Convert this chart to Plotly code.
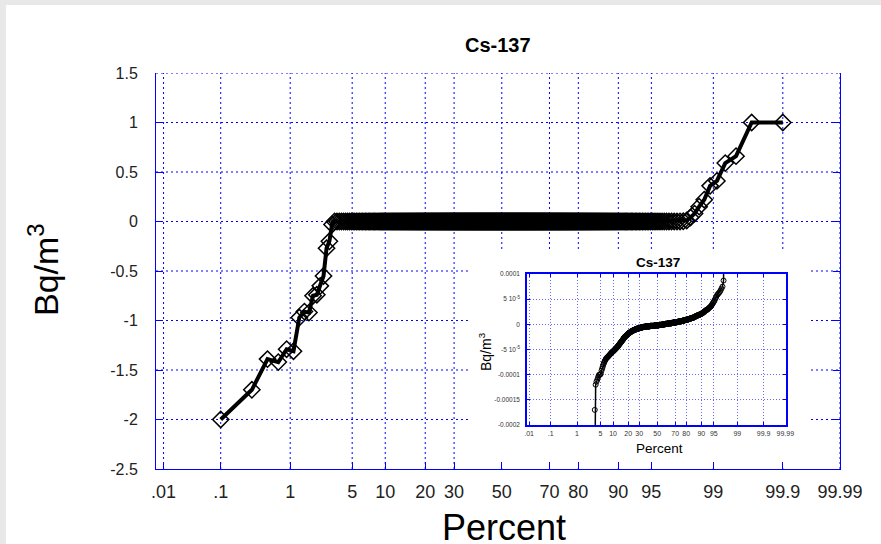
import plotly.graph_objects as go
from statistics import NormalDist

# ---------------- data ----------------
tick_pct = [0.01, 0.1, 1, 5, 10, 20, 30, 50, 70, 80, 90, 95, 99, 99.9, 99.99]
tick_lbl = [".01", ".1", "1", "5", "10", "20", "30", "50", "70", "80", "90", "95", "99", "99.9", "99.99"]

y_main_ticks = [1.5, 1, 0.5, 0, -0.5, -1, -1.5, -2, -2.5]
y_main_lbl = ["1.5", "1", "0.5", "0", "-0.5", "-1", "-1.5", "-2", "-2.5"]

y_inset_ticks = [0.0001, 0.00005, 0, -0.00005, -0.0001, -0.00015, -0.0002]
y_inset_lbl = ["0.0001", "5 10<sup>-5</sup>", "0", "-5 10<sup>-5</sup>",
               "-0.0001", "-0.00015", "-0.0002"]

# sorted Cs-137 values (Bq/m3), lowest ranks 1-17
low_tail = [-2.0, -1.70, -1.39, -1.42, -1.29, -1.31, -0.97, -0.91, -0.92,
            -0.75, -0.74, -0.65, -0.55, -0.27, -0.20, -0.03, -0.0005]

# ranks 18-487, in micro-Bq/m3
core_ubq = [
    -170, -120, -114, -110, -105, -101, -100, -100, -98,
    -92, -88, -84, -80, -77, -74, -72, -70, -68, -67,
    -66, -65, -64, -63, -62, -61, -60, -59, -58, -57,
    -56, -55, -55, -54, -53, -53, -52, -51, -50, -50,
    -49, -48, -47, -47, -46, -45, -44, -43, -43, -42,
    -41, -40, -39, -38, -38, -37, -36, -35, -34, -34,
    -33, -32, -31, -31, -30, -29, -28, -27, -27, -26,
    -25, -25, -24, -24, -23, -23, -22, -22, -21, -21,
    -20, -20, -19, -19, -18, -18, -18, -17, -17, -17,
    -16, -16, -16, -15, -15, -15, -14, -14, -14, -14,
    -13, -13, -13, -13, -12, -12, -12, -12, -12, -11,
    -11, -11, -11, -11, -10, -10, -10, -10, -10, -10,
    -9, -9, -9, -9, -9, -9, -8, -8, -8, -8,
    -8, -8, -8, -8, -7, -7, -7, -7, -7, -7,
    -7, -7, -7, -6, -6, -6, -6, -6, -6, -6,
    -6, -6, -6, -6, -5, -5, -5, -5, -5, -5,
    -5, -5, -5, -5, -5, -5, -5, -5, -4, -4, -4, -4, -4, -4, -4, -4, -4, -4, -4, -4, -4, -4, -4, -4, -4,
    -4, -4, -4, -4, -4, -4, -4, -4, -3, -3, -3, -3, -3, -3, -3, -3, -3, -3, -3, -3, -3, -3, -3, -3, -3,
    -3, -3, -3, -3, -3, -3, -3, -3, -3, -3, -2, -2, -2, -2, -2, -2, -2, -2, -2, -2, -2, -2, -2, -2, -2,
    -2, -2, -2, -2, -2, -2, -2, -2, -2, -2, -1, -1, -1, -1, -1, -1, -1, -1, -1, -1, -1, -1, -1, -1, -1,
    -1, -1, -1, -1, -1, 0, 0, 0, 0, 0, 0, 0, 0, 0, 0, 0, 0, 0, 0, 0, 1, 1, 1, 1, 1,
    1, 1, 1, 1, 1, 1, 1, 1, 1, 1, 2, 2, 2, 2, 2, 2, 2, 2, 2, 2, 2, 2, 2, 2, 2,
    2, 2, 2, 2, 2, 3, 3, 3, 3, 3, 3, 3, 3, 3, 3, 3, 3, 4, 4, 4, 4, 4, 4, 4, 4,
    4, 4, 4, 4, 4, 4, 4, 4, 5, 5, 5, 5, 5, 5, 5, 5, 5, 5, 6, 6, 6, 6, 6, 6, 6,
    6, 6, 6, 6, 6, 7, 7, 7, 7, 7, 7, 7, 7, 8, 8, 8, 8, 8, 8, 8, 9, 9, 9, 9, 9,
    9, 9, 9, 9, 10, 10, 10, 10, 10, 10, 11, 11, 11, 11, 11, 12, 12, 12, 12, 12, 13, 13, 13, 13, 13,
    13, 14, 14, 14, 15, 15, 15, 16, 16, 16, 17, 17, 17, 18, 18,
    18, 18, 19, 19, 19, 20, 20, 20, 21, 21,
    22, 22, 23, 23, 24, 25, 25, 26, 27, 28,
    28, 29, 29, 30, 31, 32, 33, 34, 35, 36,
    38, 40, 42, 44, 46,
    49, 52, 55, 58, 60,
    62, 64, 67, 71, 75,
    87,
]

# highest ranks 488-500 (Bq/m3)
high_tail = [0.0004, 0.002, 0.01, 0.04, 0.08, 0.15, 0.22, 0.36, 0.41,
             0.59, 0.66, 1.0, 1.0]

values = low_tail + [v * 1e-6 for v in core_ubq] + high_tail

# probability-plot scale: rank -> plotting position -> normal quantile
nd = NormalDist()
n = len(values)
pct = [(i + 0.5) / n * 100 for i in range(n)]
zpos = [nd.inv_cdf(p / 100) for p in pct]
tick_z = [nd.inv_cdf(p / 100) for p in tick_pct]

# ---------------- layout helpers ----------------
W, H = 881, 544
L, R, T, B = 156, 41, 73, 75
PW, PH = W - L - R, H - T - B


def px(x):
    return (x - L) / PW


def py(y):
    return (H - B - y) / PH


BLUE = "#0000ff"
FONT = "Liberation Sans, Arial, sans-serif"

fig = go.Figure()

fig.add_trace(go.Scatter(
    x=zpos, y=values, mode="lines+markers", xaxis="x", yaxis="y",
    line=dict(color="black", width=4),
    marker=dict(symbol="diamond-open", size=12.5, color="black", line=dict(width=1.5)),
    hoverinfo="skip", showlegend=False,
))

fig.add_trace(go.Scatter(
    x=zpos, y=values, mode="lines+markers", xaxis="x2", yaxis="y2",
    line=dict(color="black", width=1.5),
    marker=dict(symbol="circle-open", size=5, color="black", line=dict(width=1)),
    hoverinfo="skip", showlegend=False,
))

shapes = []
# white page panel (light gray frame on top/left)
shapes.append(dict(type="rect", xref="paper", yref="paper",
                   x0=px(6), x1=px(W) + 0.05, y0=py(H) - 0.05, y1=py(5),
                   fillcolor="white", line=dict(width=0), layer="below"))
# main grid (dotted)
for zt in tick_z:
    shapes.append(dict(type="line", xref="x", yref="paper", x0=zt, x1=zt, y0=0, y1=1,
                       line=dict(color=BLUE, width=1, dash="2px,3px"), layer="below"))
for yt in y_main_ticks[:-1]:
    shapes.append(dict(type="line", xref="paper", yref="y", x0=0, x1=1, y0=yt, y1=yt,
                       line=dict(color=BLUE, width=1, dash="2px,3px"), layer="below"))
# white background behind the inset
shapes.append(dict(type="rect", xref="paper", yref="paper",
                   x0=px(468), x1=px(808), y0=py(468), y1=py(249),
                   fillcolor="white", line=dict(width=0), layer="below"))

annotations = [
    dict(text="<b>Cs-137</b>", x=px(498), y=py(45), xref="paper", yref="paper",
         showarrow=False, font=dict(size=20, color="black", family=FONT),
         xanchor="center", yanchor="middle"),
    dict(text="Percent", x=px(504), y=py(527), xref="paper", yref="paper",
         showarrow=False, font=dict(size=36, color="black", family=FONT),
         xanchor="center", yanchor="middle"),
    dict(text="Bq/m<sup>3</sup>", x=px(43), y=py(270), xref="paper", yref="paper",
         showarrow=False, textangle=-90, font=dict(size=34, color="black", family=FONT),
         xanchor="center", yanchor="middle"),
    dict(text="<b>Cs-137</b>", x=px(658), y=py(262), xref="paper", yref="paper",
         showarrow=False, font=dict(size=13.5, color="black", family=FONT),
         xanchor="center", yanchor="middle"),
    dict(text="Percent", x=px(659), y=py(448), xref="paper", yref="paper",
         showarrow=False, font=dict(size=13.5, color="black", family=FONT),
         xanchor="center", yanchor="middle"),
    dict(text="Bq/m<sup>3</sup>", x=px(485), y=py(352), xref="paper", yref="paper",
         showarrow=False, textangle=-90, font=dict(size=14, color="black", family=FONT),
         xanchor="center", yanchor="middle"),
]

fig.update_layout(
    width=W, height=H,
    margin=dict(l=L, r=R, t=T, b=B, pad=0),
    paper_bgcolor="#e8e8e8", plot_bgcolor="white",
    font=dict(family=FONT, color="#222"),
    showlegend=False,
    shapes=shapes,
    annotations=annotations,
    xaxis=dict(domain=[0, 1], anchor="y", range=[-3.802, 3.719],
               tickmode="array", tickvals=tick_z, ticktext=tick_lbl,
               ticks="inside", ticklen=7, tickcolor=BLUE, tickwidth=1,
               showline=True, linecolor=BLUE, linewidth=1, mirror=False,
               showgrid=False, zeroline=False, automargin=False,
               tickfont=dict(size=18, color="#222", family=FONT),
               ticklabelstandoff=6),
    yaxis=dict(domain=[0, 1], anchor="x", range=[-2.5, 1.5],
               tickmode="array", tickvals=y_main_ticks, ticktext=y_main_lbl,
               ticks="inside", ticklen=7, tickcolor=BLUE, tickwidth=1,
               showline=True, linecolor=BLUE, linewidth=1, mirror="ticks",
               showgrid=False, zeroline=False, automargin=False,
               tickfont=dict(size=16, color="#222", family=FONT),
               ticklabelstandoff=14),
    xaxis2=dict(domain=[px(527), px(786)], anchor="y2", range=[-3.78, 3.74],
                tickmode="array", tickvals=tick_z, ticktext=tick_lbl,
                ticks="inside", ticklen=3, tickcolor=BLUE, tickwidth=1,
                showline=True, linecolor=BLUE, linewidth=1.5, mirror="ticks",
                showgrid=True, gridcolor="#6a6aff", gridwidth=1, griddash="1px,2px",
                zeroline=False, automargin=False,
                tickfont=dict(size=7, color="#333", family=FONT),
                ticklabelstandoff=1),
    yaxis2=dict(domain=[py(425), py(274)], anchor="x2", range=[-0.0002, 0.0001],
                tickmode="array", tickvals=y_inset_ticks, ticktext=y_inset_lbl,
                ticks="inside", ticklen=3, tickcolor=BLUE, tickwidth=1,
                showline=True, linecolor=BLUE, linewidth=1.5, mirror="ticks",
                showgrid=True, gridcolor="#6a6aff", gridwidth=1, griddash="1px,2px",
                zeroline=False, automargin=False,
                tickfont=dict(size=6.5, color="#333", family=FONT),
                ticklabelstandoff=4),
)

fig.write_html("out.html")
